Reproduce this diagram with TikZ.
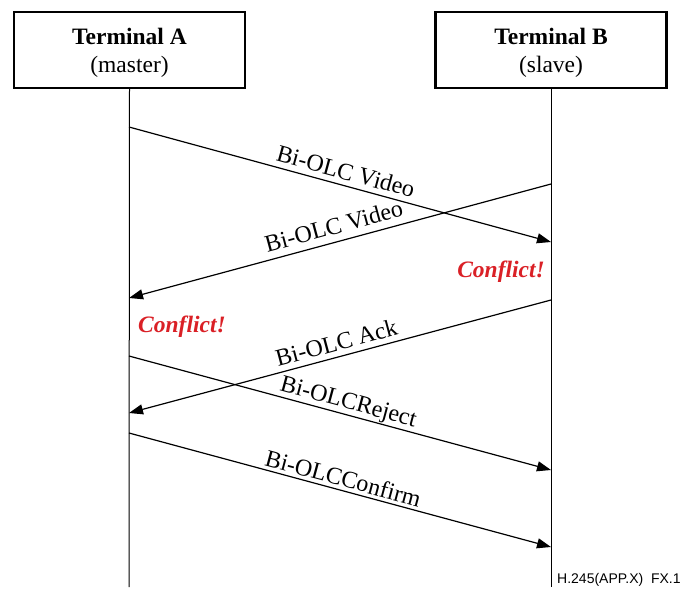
\documentclass[tikz,border=0pt]{standalone}
\usepackage{fontspec}
\setmainfont{Liberation Serif}
\setsansfont{Liberation Sans}
\usetikzlibrary{arrows.meta}
\definecolor{conflictred}{RGB}{218,32,38}
\begin{document}
\begin{tikzpicture}[x=1pt,y=-1pt,
  termbox/.style={draw, line width=2.4pt, minimum width=231pt, minimum height=76pt,
    inner sep=0pt},
  termtext/.style={align=center, inner sep=0pt, font=\fontsize{23.5}{28}\selectfont},
  lifeline/.style={line width=1pt},
  msg/.style={line width=1.2pt, -{Triangle[length=14pt,width=10pt]}},
  lbl/.style={sloped, anchor=south, text depth=0pt, inner sep=0pt, outer sep=0pt,
    font=\fontsize{24}{28}\selectfont},
  conflict/.style={text=conflictred, font=\fontsize{23.5}{28}\selectfont\bfseries\itshape, inner sep=0pt}
]
\useasboundingbox (0,0) rectangle (698,590);
\node[termbox] (ta) at (129.5,50) {};
\node[termbox] (tb) at (551,50) {};
\node[termtext] (tat) at (129.5,53) {\textbf{Terminal A}\\(master)};
\node[termtext] (tbt) at (551,53) {\textbf{Terminal B}\\(slave)};
\coordinate (aend) at (129,587);
\coordinate (bend) at (551,587);
\draw[lifeline] (ta.south) -- (aend);
\draw[lifeline] (tb.south) -- (bend);
% event points
\coordinate (a1) at (129,127);
\coordinate (b1) at (551,242);
\coordinate (b2) at (551,184);
\coordinate (a2) at (129,298);
\coordinate (b3) at (551,300);
\coordinate (a3) at (129,413);
\coordinate (a4) at (129,356);
\coordinate (b4) at (551,470);
\coordinate (a5) at (129,433);
\coordinate (b5) at (551,547);
\draw[msg] (a1) -- node[lbl, pos=0.505, yshift=6pt] (l1) {Bi-OLC Video} (b1);
\draw[msg] (b2) -- node[lbl, pos=0.505, yshift=8pt] (l2) {Bi-OLC Video} (a2);
\draw[msg] (b3) -- node[lbl, pos=0.5, yshift=6pt] (l3) {Bi-OLC Ack} (a3);
\draw[msg] (a4) -- node[lbl, pos=0.512, yshift=6pt] (l4) {Bi-OLCReject} (b4);
\draw[msg] (a5) -- node[lbl, pos=0.5, yshift=4pt] (l5) {Bi-OLCConfirm} (b5);
\node[conflict, anchor=east] (cb) at (545,272) {Conflict!};
\node[conflict, anchor=west] (ca) at (138,327) {Conflict!};
\node[anchor=base west, inner sep=0pt, font=\sffamily\fontsize{14}{16}\selectfont] (fig) at (557,583) {H.245(APP.X)\ \ FX.1};
\end{tikzpicture}
\end{document}
